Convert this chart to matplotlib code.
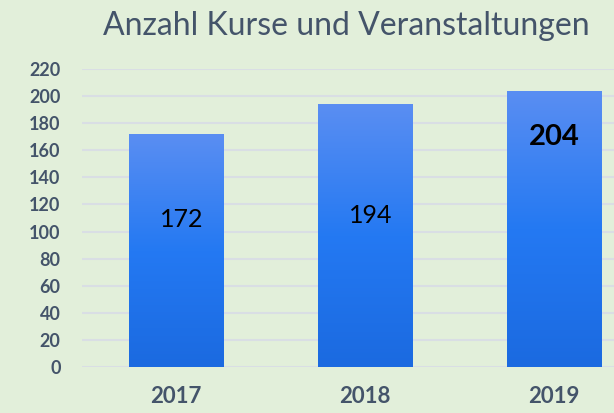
import numpy as np
import matplotlib.pyplot as plt
from matplotlib.colors import LinearSegmentedColormap

plt.rcParams['font.family'] = ['Lato', 'DejaVu Sans']

# data
years = ['2017', '2018', '2019']
counts = [172, 194, 204]
label_y = [109, 112, 170]      # where the value labels sit inside the bars
label_bold = [False, False, True]

bg = '#E2EFDA'
text_col = '#44546A'

fig = plt.figure(figsize=(6.14, 4.13), dpi=100, facecolor=bg)
# plot area runs past the right edge like in the original
ax = fig.add_axes([81.5 / 614, 46 / 413, 567 / 614, 298 / 413])
ax.set_facecolor(bg)

x = np.arange(len(years))
bars = ax.bar(x, counts, width=0.5, color='#2479F3', zorder=2)

# vertical gradient on each bar
cmap = LinearSegmentedColormap.from_list('bl', ['#1B6AE0', '#2479F3', '#5A8EF2'])
grad = np.linspace(0, 1, 256).reshape(-1, 1)
for b in bars:
    x0, w, h = b.get_x(), b.get_width(), b.get_height()
    im = ax.imshow(grad, extent=[x0, x0 + w, 0, h], origin='lower', cmap=cmap,
                   aspect='auto', zorder=3)
    im.set_clip_path(b)

for i, v in enumerate(counts):
    ax.text(x[i] + (0.03 if not label_bold[i] else 0), label_y[i], str(v),
            ha='center', va='center', fontsize=18 if not label_bold[i] else 21,
            fontweight='bold' if label_bold[i] else 'normal', color='black', zorder=4)

ax.set_xlim(-0.5, 2.5)
ax.set_ylim(0, 220)
ax.set_yticks(np.arange(0, 221, 20))
ax.yaxis.grid(True, color='#D9DEE4', linewidth=1.5, zorder=0)
ax.set_axisbelow(True)
for s in ax.spines.values():
    s.set_visible(False)
ax.tick_params(axis='both', length=0)
ax.tick_params(axis='y', pad=15, labelsize=13, labelcolor=text_col)
ax.tick_params(axis='x', pad=14, labelsize=16, labelcolor=text_col)
ax.set_xticks(x)
ax.set_xticklabels(years)
for t in ax.get_yticklabels() + ax.get_xticklabels():
    t.set_fontweight('bold')

fig.text(346 / 614, 1 - 26 / 413, 'Anzahl Kurse und Veranstaltungen',
         ha='center', va='center', fontsize=23, color=text_col)

fig.savefig('out.png', dpi=100, facecolor=bg)
